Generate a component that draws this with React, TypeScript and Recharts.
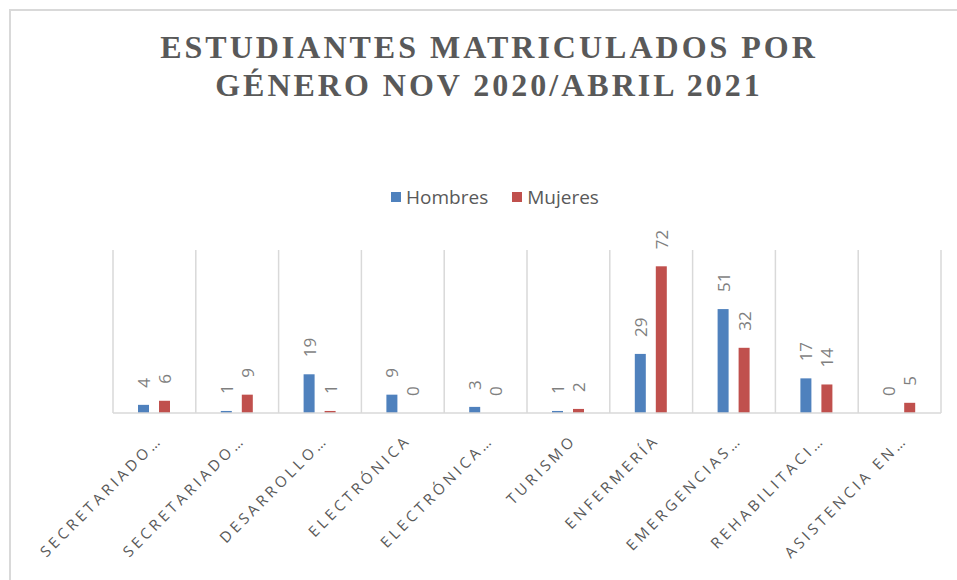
import { BarChart, Bar, XAxis, YAxis, CartesianGrid, Legend } from 'recharts';

const categories = [
  'SECRETARIADO…',
  'SECRETARIADO…',
  'DESARROLLO…',
  'ELECTRÓNICA',
  'ELECTRÓNICA…',
  'TURISMO',
  'ENFERMERÍA',
  'EMERGENCIAS…',
  'REHABILITACI…',
  'ASISTENCIA EN…',
];
const hombres = [4, 1, 19, 9, 3, 1, 29, 51, 17, 0];
const mujeres = [6, 9, 1, 0, 0, 2, 72, 32, 14, 5];

const data = categories.map((name, i) => ({ name, hombres: hombres[i], mujeres: mujeres[i] }));

const SANS = '"Open Sans", "Noto Sans", sans-serif';
const GRAY = '#595959';

function CategoryTick({ x, y, payload }: any) {
  const tx = x + 9;
  const ty = y + 20;
  return (
    <text
      x={tx}
      y={ty}
      transform={`rotate(-45, ${tx}, ${ty})`}
      textAnchor="end"
      fill={GRAY}
      fontSize={15}
      letterSpacing={3.6}
      fontFamily={SANS}
    >
      {payload.value}
    </text>
  );
}

// bar rect plus its rotated value label (drawn here so zero values get a label too)
function LabeledBar(props: any) {
  const { x, y, width, height, fill, dataKey, payload } = props;
  const value = payload[dataKey];
  const cx = x + width / 2;
  const cy = y - 17;
  return (
    <g>
      {height > 0 && <rect x={x} y={y} width={width} height={height} fill={fill} />}
      <text
        x={cx}
        y={cy}
        transform={`rotate(-90, ${cx}, ${cy})`}
        textAnchor="start"
        dominantBaseline="central"
        fill="#7f7f7f"
        fontSize={17}
        fontFamily={SANS}
      >
        {value}
      </text>
    </g>
  );
}

function LegendContent({ payload }: any) {
  return (
    <div style={{ display: 'flex', justifyContent: 'center', gap: 24, fontFamily: SANS, fontSize: 19, color: GRAY }}>
      {payload.map((p: any) => (
        <div key={p.value} style={{ display: 'flex', alignItems: 'center' }}>
          <span style={{ width: 10, height: 10, background: p.color, marginRight: 5, display: 'inline-block' }} />
          <span>{p.value}</span>
        </div>
      ))}
    </div>
  );
}

export default function App() {
  return (
    <div style={{ position: 'absolute', left: 0, top: 0, width: 957, height: 580, overflow: 'hidden', background: '#fff' }}>
      <div
        style={{
          position: 'absolute',
          left: 9,
          top: 9,
          width: 1000,
          height: 700,
          border: '2px solid #d9d9d9',
        }}
      />
      <div
        style={{
          position: 'absolute',
          left: 89,
          top: 28,
          width: 800,
          textAlign: 'center',
          fontFamily: '"Liberation Serif", "Times New Roman", serif',
          fontWeight: 'bold',
          fontSize: 32,
          lineHeight: '38px',
          letterSpacing: 3,
          color: GRAY,
        }}
      >
        ESTUDIANTES MATRICULADOS POR
        <br />
        GÉNERO NOV 2020/ABRIL 2021
      </div>
      <BarChart
        width={957}
        height={580}
        data={data}
        margin={{ top: 250, right: 16, bottom: 137, left: 113 }}
        barSize={11}
        barGap={10}
        style={{ position: 'absolute', left: 0, top: 0 }}
      >
        <CartesianGrid
          horizontal={false}
          stroke="#d9d9d9"
          strokeWidth={1.5}
          verticalCoordinatesGenerator={({ offset }: any) =>
            Array.from({ length: categories.length + 1 }, (_, i) => offset.left + (i * offset.width) / categories.length)
          }
        />
        <XAxis
          dataKey="name"
          height={30}
          interval={0}
          tickLine={false}
          axisLine={{ stroke: '#d9d9d9', strokeWidth: 1.5 }}
          tick={<CategoryTick />}
        />
        <YAxis hide domain={[0, 80]} />
        <Legend
          verticalAlign="middle"
          align="center"
          layout="horizontal"
          wrapperStyle={{ top: 184, left: 30, width: 930 }}
          content={<LegendContent />}
        />
        <Bar
          dataKey="hombres"
          name="Hombres"
          fill="#4f81bd"
          isAnimationActive={false}
          shape={(p: any) => <LabeledBar {...p} dataKey="hombres" />}
        />
        <Bar
          dataKey="mujeres"
          name="Mujeres"
          fill="#c0504d"
          isAnimationActive={false}
          shape={(p: any) => <LabeledBar {...p} dataKey="mujeres" />}
        />
      </BarChart>
    </div>
  );
}
